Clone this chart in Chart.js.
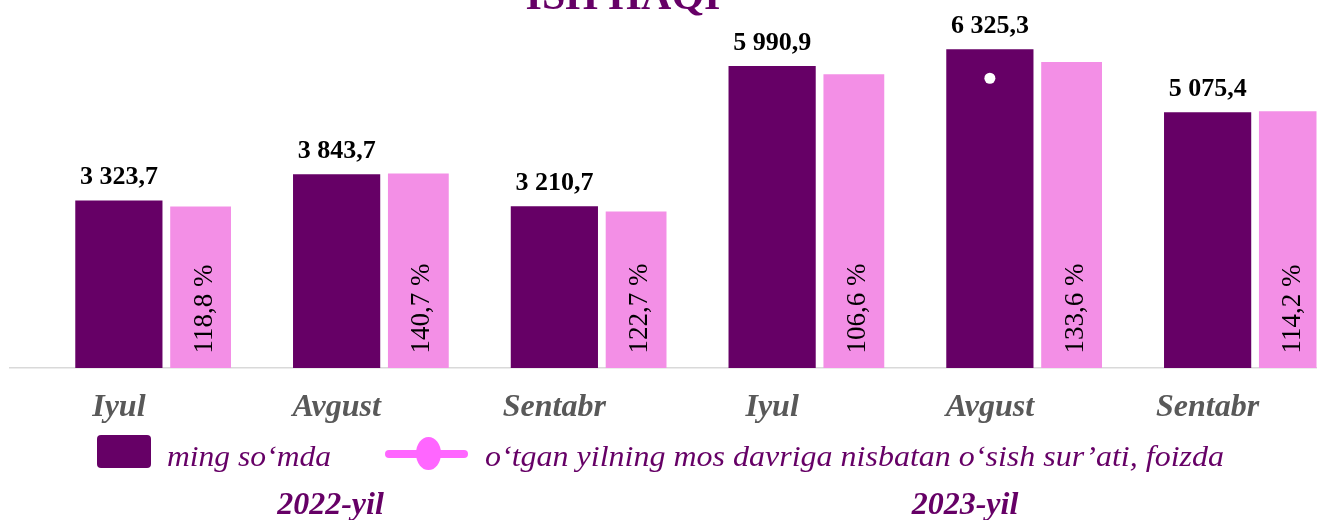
<!DOCTYPE html>
<html>
<head>
<meta charset="utf-8">
<script src="https://cdn.jsdelivr.net/npm/chart.js@4/dist/chart.umd.min.js"></script>
<style>
  html, body { margin: 0; padding: 0; background: #ffffff; overflow: hidden; }
  #wrap { position: relative; width: 1322px; height: 520px; }
</style>
</head>
<body>
<div id="wrap"><canvas id="c" width="1322" height="520"></canvas></div>
<script>
// ---- data ----
const titleText = 'ISH HAQI';
const categories = ['Iyul', 'Avgust', 'Sentabr', 'Iyul', 'Avgust', 'Sentabr'];
const yearLabels = ['2022-yil', '2023-yil'];
const wageValues = [3323.7, 3843.7, 3210.7, 5990.9, 6325.3, 5075.4];      // ming so'mda
const growthBarValues = [3204, 3861, 3104, 5831, 6070, 5095];              // pink bar heights (same scale)
const growthPercent = [118.8, 140.7, 122.7, 106.6, 133.6, 114.2];          // labels on pink bars
const spacerValues = [0, 0, 0, 0, 0, 0];                                   // empty slot left of each purple bar
const markerValues = [null, null, null, null, 5750, null];                 // white marker point
const legendLabels = ['ming so‘mda', 'o‘tgan yilning mos davriga nisbatan o‘sish sur’ati, foizda'];

const PURPLE = '#660066';
const PINK = '#F38FE6';
const PINK_LINE = '#FF66FF';
const SERIF = "'Liberation Serif', 'Times New Roman', serif";
const CAT_PCT = 1.126;

function fmtNum(v) {
  const parts = v.toFixed(1).split('.');
  const intPart = parts[0].replace(/\B(?=(\d{3})+(?!\d))/g, ' ');
  return intPart + ',' + parts[1];
}
function fmtPct(v) { return v.toFixed(1).replace('.', ',') + ' %'; }

const labelsPlugin = {
  id: 'customLabels',
  afterDatasetsDraw(chart) {
    const ctx = chart.ctx;
    ctx.save();
    // values above purple bars
    const mP = chart.getDatasetMeta(1);
    ctx.fillStyle = '#000000';
    ctx.font = 'bold 26px ' + SERIF;
    ctx.textAlign = 'center';
    ctx.textBaseline = 'alphabetic';
    mP.data.forEach((el, i) => {
      ctx.fillText(fmtNum(wageValues[i]), el.x, el.y - 16.5);
    });
    // rotated percentages in pink bars
    const mK = chart.getDatasetMeta(2);
    ctx.font = '27px ' + SERIF;
    ctx.textAlign = 'left';
    mK.data.forEach((el, i) => {
      ctx.save();
      ctx.translate(el.x + 11, el.base - 14.5);
      ctx.rotate(-Math.PI / 2);
      ctx.fillText(fmtPct(growthPercent[i]), 0, 0);
      ctx.restore();
    });
    ctx.restore();
  },
  afterDraw(chart) {
    const ctx = chart.ctx;
    ctx.save();
    // title (partly above the top edge)
    ctx.fillStyle = PURPLE;
    ctx.font = 'bold 42px ' + SERIF;
    ctx.textAlign = 'center';
    ctx.textBaseline = 'alphabetic';
    ctx.fillText(titleText, 623, 8.5);

    // legend
    function fitText(txt, x, y, w) {
      const mw = ctx.measureText(txt).width;
      ctx.save();
      ctx.translate(x, y);
      ctx.scale(w / mw, 1);
      ctx.fillText(txt, 0, 0);
      ctx.restore();
    }
    ctx.fillStyle = PURPLE;
    ctx.beginPath();
    ctx.roundRect(97, 435, 54, 33, 4);
    ctx.fill();
    ctx.font = 'italic 30px ' + SERIF;
    ctx.textAlign = 'left';
    fitText(legendLabels[0], 167, 465.5, 164);

    ctx.strokeStyle = PINK_LINE;
    ctx.lineWidth = 8;
    ctx.lineCap = 'round';
    ctx.beginPath();
    ctx.moveTo(389, 454);
    ctx.lineTo(464, 454);
    ctx.stroke();
    ctx.fillStyle = PINK_LINE;
    ctx.beginPath();
    ctx.ellipse(428.5, 453.5, 12.5, 16.5, 0, 0, Math.PI * 2);
    ctx.fill();
    ctx.fillStyle = PURPLE;
    fitText(legendLabels[1], 485, 465.5, 739);

    // year labels
    ctx.font = 'italic bold 32px ' + SERIF;
    ctx.textAlign = 'center';
    ctx.fillText(yearLabels[0], 330.5, 514);
    ctx.fillText(yearLabels[1], 965, 514);
    ctx.restore();
  }
};

new Chart(document.getElementById('c'), {
  data: {
    labels: categories,
    datasets: [
      { type: 'bar', label: 'spacer', data: spacerValues, backgroundColor: 'rgba(0,0,0,0)',
        borderWidth: 0, barPercentage: 0.5, categoryPercentage: CAT_PCT, order: 1 },
      { type: 'bar', label: legendLabels[0], data: wageValues, backgroundColor: PURPLE,
        borderWidth: 0, barPercentage: 1.067, categoryPercentage: CAT_PCT, order: 1 },
      { type: 'bar', label: legendLabels[1], data: growthBarValues, backgroundColor: PINK,
        borderWidth: 0, barPercentage: 0.744, categoryPercentage: CAT_PCT, order: 1 },
      { type: 'line', label: 'marker', data: markerValues,
        showLine: false, pointRadius: 5.5, pointHoverRadius: 5.5, pointBackgroundColor: '#ffffff',
        pointBorderWidth: 0, borderColor: '#ffffff', order: 0 }
    ]
  },
  options: {
    responsive: false,
    animation: false,
    devicePixelRatio: 1,
    layout: { padding: { top: 15.25, left: 10, right: 1.5, bottom: 71.6 } },
    plugins: { legend: { display: false }, tooltip: { enabled: false }, title: { display: false } },
    scales: {
      x: {
        type: 'category', offset: true,
        grid: { display: false, drawTicks: false },
        border: { display: true, color: '#d9d9d9', width: 1.5 },
        ticks: { color: '#595959', padding: 21, maxRotation: 0, autoSkip: false,
          font: { family: SERIF, size: 32, style: 'italic', weight: 'bold' } }
      },
      y: { display: false, min: 0, max: 7000 }
    }
  },
  plugins: [labelsPlugin]
});
</script>
</body>
</html>
